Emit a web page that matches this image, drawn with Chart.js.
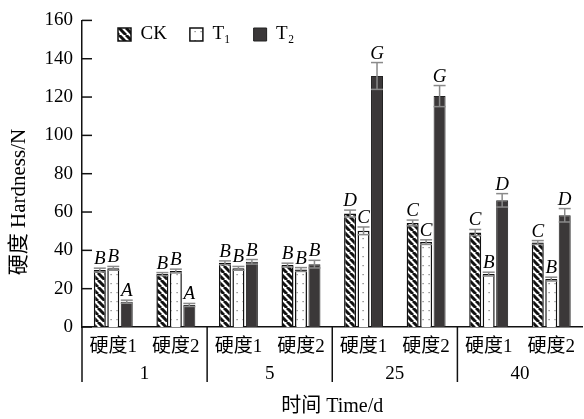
<!DOCTYPE html>
<html>
<head>
<meta charset="utf-8">
<script src="https://cdn.jsdelivr.net/npm/chart.js@4.4.1/dist/chart.umd.min.js"></script>
<style>
  body { margin: 0; background: #fff; }
  canvas { display: block; }
</style>
</head>
<body>
<canvas id="hardnessChart" width="584" height="419"></canvas>
<script>
// values
const categories = ['硬度1', '硬度2', '硬度1', '硬度2', '硬度1', '硬度2', '硬度1', '硬度2'];
const days = ['1', '5', '25', '40'];
const seriesNames = ['CK', 'T₁', 'T₂'];

const ckValues = [29.7, 27.6, 33.5, 32.3, 59.2, 54.3, 49.3, 44.1];
const t1Values = [30.6, 29.2, 30.6, 30.0, 50.2, 44.3, 27.6, 25.0];
const t2Values = [13.2, 11.5, 34.0, 32.8, 131.0, 120.5, 66.1, 58.3];

const ckErr = [1.0, 0.8, 1.0, 1.0, 1.8, 1.5, 1.6, 1.0];
const t1Err = [1.0, 1.0, 1.0, 1.0, 2.0, 1.2, 1.0, 1.0];
const t2Err = [0.8, 0.8, 1.2, 2.0, 7.0, 5.5, 3.5, 3.5];

const ckLetters = ['B', 'B', 'B', 'B', 'D', 'C', 'C', 'C'];
const t1Letters = ['B', 'B', 'B', 'B', 'C', 'C', 'B', 'B'];
const t2Letters = ['A', 'A', 'B', 'B', 'G', 'G', 'D', 'D'];

const yTicks = [0, 20, 40, 60, 80, 100, 120, 140, 160];
const xTitle = '时间 Time/d';
const yTitle = '硬度 Hardness/N';

const errors = [ckErr, t1Err, t2Err];
const letters = [ckLetters, t1Letters, t2Letters];
const serif = '"Liberation Serif", "Times New Roman", "Noto Sans CJK SC", serif';

// legend sits inside the plot, so its height is cancelled by a negative top padding
const legendFont = 19, legendPad = 23;
const legendHeight = legendFont + legendPad + 10;

// fill patterns
function stripePattern() {
  const c = document.createElement('canvas');
  c.width = 7; c.height = 7;
  const g = c.getContext('2d');
  g.fillStyle = '#fff';
  g.fillRect(0, 0, 7, 7);
  g.strokeStyle = '#111';
  g.lineWidth = 3;
  g.beginPath();
  for (let k = -1; k <= 1; k++) {
    g.moveTo(k * 7, 0);
    g.lineTo(k * 7 + 7, 7);
  }
  g.stroke();
  return g.createPattern(c, 'repeat');
}
function dotPattern() {
  const c = document.createElement('canvas');
  c.width = 6; c.height = 9;
  const g = c.getContext('2d');
  g.fillStyle = '#fff';
  g.fillRect(0, 0, 6, 9);
  g.fillStyle = '#777';
  g.fillRect(2.5, 4, 1.2, 1.2);
  return g.createPattern(c, 'repeat');
}

function line(ctx, x1, y1, x2, y2) {
  ctx.beginPath();
  ctx.moveTo(x1, y1);
  ctx.lineTo(x2, y2);
  ctx.stroke();
}

// error bars, letters, inward ticks, day groups, y title
const extras = {
  id: 'extras',
  afterLayout(chart) {
    const lg = chart.legend;
    const dx = 118 - legendPad - lg.left;
    lg.left += dx; lg.right += dx;
    lg.top = 28 - 3 - legendPad;
    lg.bottom = lg.top + lg.height;
  },
  afterDatasetsDraw(chart) {
    const ctx = chart.ctx, ya = chart.scales.y;
    ctx.save();
    errors.forEach((errs, d) => {
      const vals = chart.data.datasets[d].data;
      chart.getDatasetMeta(d).data.forEach((bar, i) => {
        const top = ya.getPixelForValue(vals[i] + errs[i]);
        const bot = ya.getPixelForValue(vals[i] - errs[i]);
        const hw = bar.width / 2;
        ctx.strokeStyle = '#8a8a8a';
        ctx.lineWidth = 1.5;
        line(ctx, bar.x, top, bar.x, bot);
        line(ctx, bar.x - hw, top, bar.x + hw, top);
        line(ctx, bar.x - hw, bot, bar.x + hw, bot);
        ctx.fillStyle = '#000';
        ctx.font = 'italic 19px ' + serif;
        ctx.textAlign = 'center';
        ctx.textBaseline = 'alphabetic';
        ctx.fillText(letters[d][i], bar.x, top - 4);
      });
    });
    ctx.restore();
  },
  afterDraw(chart) {
    const ctx = chart.ctx, ya = chart.scales.y, xa = chart.scales.x, area = chart.chartArea;
    ctx.save();
    ctx.strokeStyle = '#111';
    ctx.lineWidth = 1.5;
    ya.ticks.forEach(t => {
      const py = ya.getPixelForValue(t.value);
      line(ctx, area.left, py, area.left + 10, py);
    });
    const half = (xa.getPixelForValue(1) - xa.getPixelForValue(0)) / 2;
    ctx.fillStyle = '#000';
    ctx.font = '19px ' + serif;
    ctx.textAlign = 'center';
    ctx.textBaseline = 'middle';
    days.forEach((d, k) => {
      const x0 = xa.getPixelForValue(2 * k) - half;
      line(ctx, x0, area.bottom, x0, area.bottom + 55);
      const cx = (xa.getPixelForValue(2 * k) + xa.getPixelForValue(2 * k + 1)) / 2;
      ctx.fillText(d, cx, 374);
    });
    ctx.translate(19, 202);
    ctx.rotate(-Math.PI / 2);
    ctx.font = '21px ' + serif;
    ctx.fillText(yTitle, 0, 0);
    ctx.restore();
  }
};

new Chart(document.getElementById('hardnessChart'), {
  type: 'bar',
  data: {
    labels: categories,
    datasets: [
      { label: seriesNames[0], data: ckValues, backgroundColor: stripePattern(), borderColor: '#111', borderWidth: 1.5 },
      { label: seriesNames[1], data: t1Values, backgroundColor: dotPattern(), borderColor: '#111', borderWidth: 1.5 },
      { label: seriesNames[2], data: t2Values, backgroundColor: '#3b3839', borderColor: '#222', borderWidth: 1 }
    ]
  },
  options: {
    responsive: false,
    animation: false,
    devicePixelRatio: 1,
    datasets: { bar: { categoryPercentage: 0.646, barPercentage: 0.89 } },
    layout: { padding: { top: 20 - legendHeight, left: 0, right: 0, bottom: 0 } },
    plugins: {
      legend: {
        position: 'top',
        align: 'start',
        labels: {
          boxWidth: 13, boxHeight: 13, padding: legendPad, color: '#000',
          font: { family: serif, size: legendFont }
        }
      },
      tooltip: { enabled: false }
    },
    scales: {
      x: {
        grid: { display: false, drawTicks: false },
        border: { display: true, color: '#111', width: 1.5 },
        ticks: { color: '#000', padding: 9, font: { family: serif, size: 19 } },
        title: { display: true, text: xTitle, color: '#000', padding: 0, font: { family: serif, size: 20 } },
        afterFit(s) { s.height = 92; }
      },
      y: {
        min: 0, max: 160,
        afterBuildTicks(s) { s.ticks = yTicks.map(v => ({ value: v })); },
        grid: { display: false, drawTicks: false },
        border: { display: true, color: '#111', width: 1.5 },
        ticks: { color: '#000', padding: 9, font: { family: serif, size: 19 } },
        afterFit(s) { s.width = 82; }
      }
    }
  },
  plugins: [extras]
});
</script>
</body>
</html>
